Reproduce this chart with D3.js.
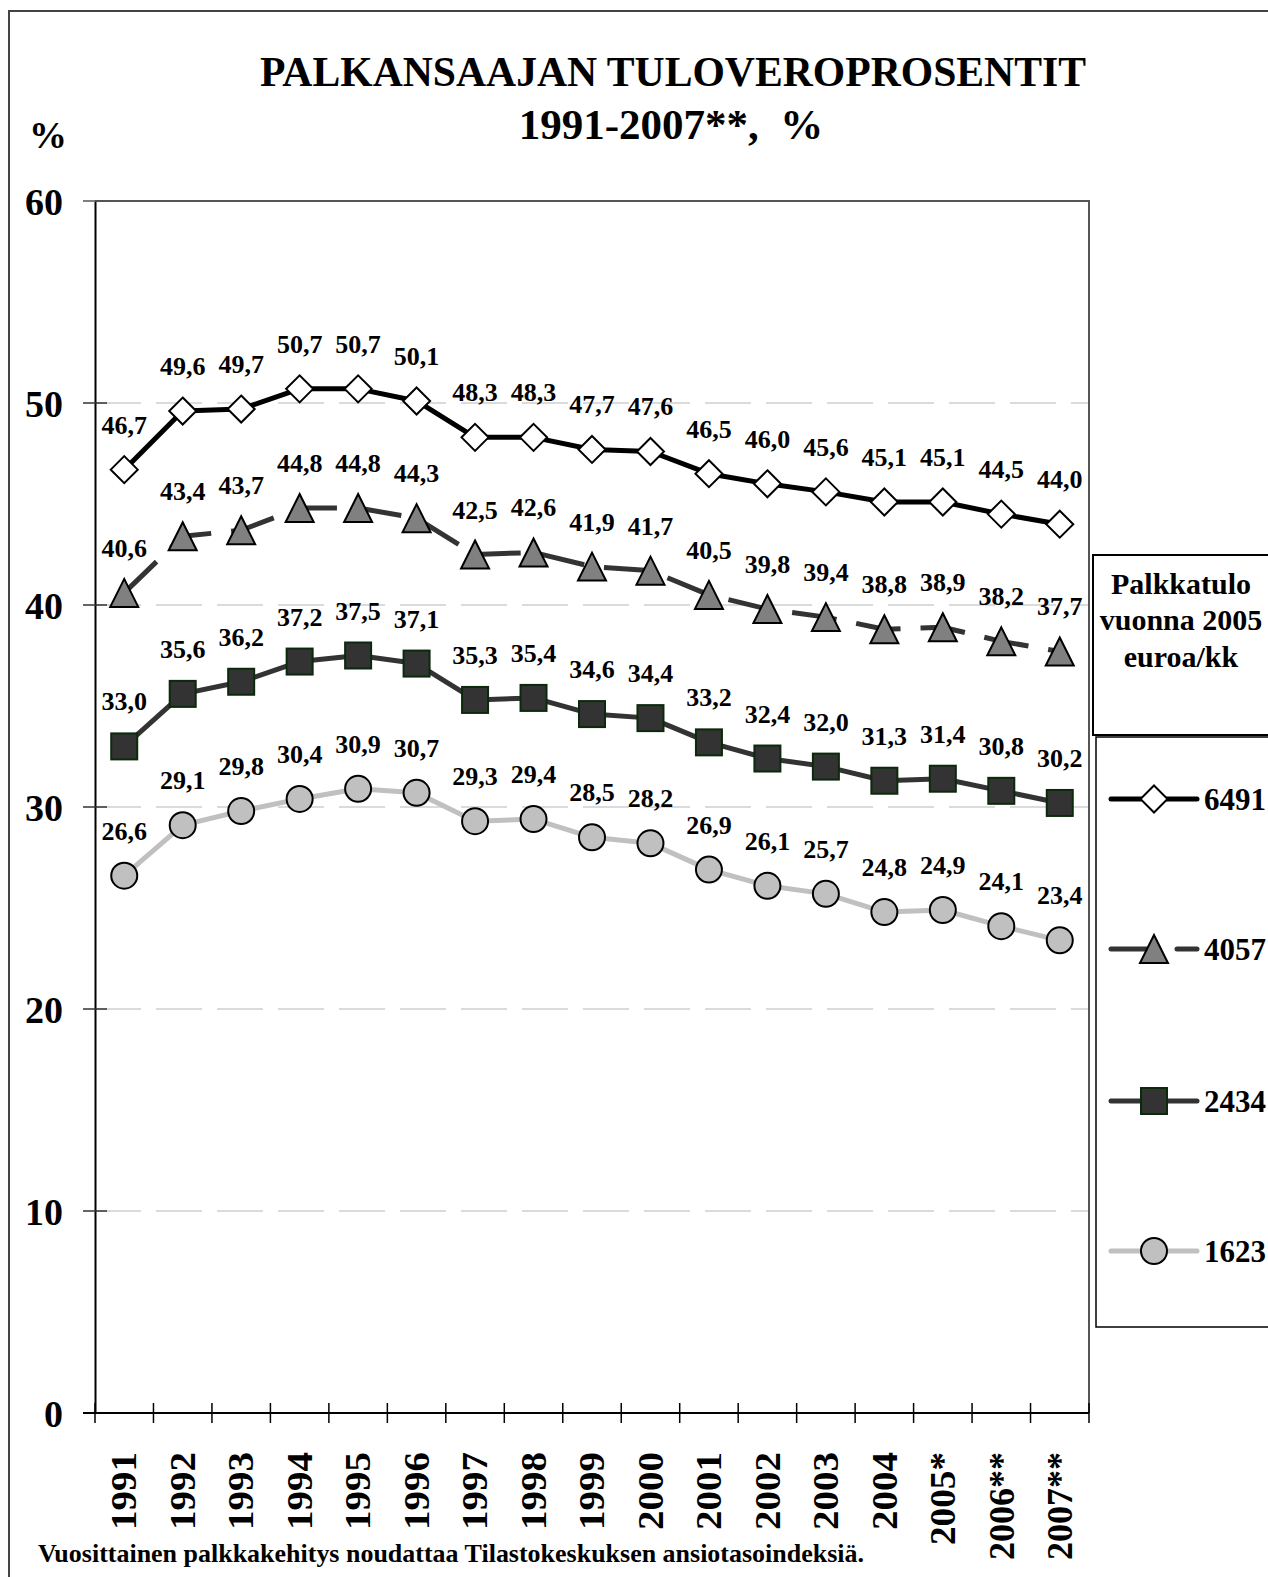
<!DOCTYPE html>
<html>
<head>
<meta charset="utf-8">
<script src="https://cdn.jsdelivr.net/npm/d3@7"></script>
<style>
  html, body { margin: 0; padding: 0; background: #fff; }
  svg { display: block; }
  text { font-family: "Liberation Serif", "Times New Roman", serif; font-weight: bold; fill: #000; }
</style>
</head>
<body>
<svg id="chart" width="1268" height="1577"></svg>
<script>
// Years on the x axis (band categories)
const years = ["1991","1992","1993","1994","1995","1996","1997","1998","1999","2000",
               "2001","2002","2003","2004","2005*","2006**","2007**"];

// Income tax rate (%) by monthly wage level, euros/month in 2005
const s6491 = [46.7,49.6,49.7,50.7,50.7,50.1,48.3,48.3,47.7,47.6,46.5,46.0,45.6,45.1,45.1,44.5,44.0];
const s4057 = [40.6,43.4,43.7,44.8,44.8,44.3,42.5,42.6,41.9,41.7,40.5,39.8,39.4,38.8,38.9,38.2,37.7];
const s2434 = [33.0,35.6,36.2,37.2,37.5,37.1,35.3,35.4,34.6,34.4,33.2,32.4,32.0,31.3,31.4,30.8,30.2];
const s1623 = [26.6,29.1,29.8,30.4,30.9,30.7,29.3,29.4,28.5,28.2,26.9,26.1,25.7,24.8,24.9,24.1,23.4];

const seriesNames = ["6491","4057","2434","1623"];
const yTicks = [0,10,20,30,40,50,60];

const title1 = "PALKANSAAJAN TULOVEROPROSENTIT";
const title2 = "1991-2007**,  %";
const legendTitle = ["Palkkatulo","vuonna 2005","euroa/kk"];
const footnote = "Vuosittainen palkkakehitys noudattaa Tilastokeskuksen ansiotasoindeksiä.";

const series = [
  { name: "6491", values: s6491, line: "#000000", dash: null,    marker: "diamond",  fill: "#ffffff", stroke: "#000000" },
  { name: "4057", values: s4057, line: "#333333", dash: "45,20", marker: "triangle", fill: "#808080", stroke: "#000000" },
  { name: "2434", values: s2434, line: "#333333", dash: null,    marker: "square",   fill: "#333333", stroke: "#0b2a0b" },
  { name: "1623", values: s1623, line: "#c0c0c0", dash: null,    marker: "circle",   fill: "#c0c0c0", stroke: "#000000" }
];

const svg = d3.select("#chart");
const plot = { left: 95, right: 1089, top: 201, bottom: 1413 };

const x = d3.scaleBand().domain(years).range([plot.left, plot.right]);
const y = d3.scaleLinear().domain([0, 60]).range([plot.bottom, plot.top]);
const cx = d => x(d) + x.bandwidth() / 2;
const fmt = v => d3.format(".1f")(v).replace(".", ",");

// Outer frame (top and left edges)
svg.append("path")
  .attr("d", "M9,1577 L9,11 L1268,11")
  .attr("fill", "none").attr("stroke", "#444").attr("stroke-width", 2);

// Title
svg.append("text").attr("x", 673).attr("y", 86).attr("text-anchor", "middle")
  .attr("font-size", 43).attr("textLength", 826).attr("lengthAdjust", "spacingAndGlyphs")
  .text(title1);
svg.append("text").attr("x", 671).attr("y", 139).attr("text-anchor", "middle")
  .attr("font-size", 43).style("white-space", "pre").attr("xml:space", "preserve")
  .text(title2);

// Unit label
svg.append("text").attr("x", 48).attr("y", 148).attr("text-anchor", "middle")
  .attr("font-size", 38).text("%");

// Horizontal gridlines
svg.append("g").selectAll("line")
  .data(yTicks.filter(t => t > 0 && t < 60))
  .join("line")
  .attr("x1", plot.left).attr("x2", plot.right)
  .attr("y1", d => y(d)).attr("y2", d => y(d))
  .attr("stroke", "#d0d0d0").attr("stroke-width", 1.5)
  .attr("stroke-dasharray", "46,15");

// Plot frame: top and right in grey
svg.append("path")
  .attr("d", `M${plot.left},${plot.top} L${plot.right},${plot.top} L${plot.right},${plot.bottom}`)
  .attr("fill", "none").attr("stroke", "#555").attr("stroke-width", 2);

// Y axis
const yAxis = d3.axisLeft(y).tickValues(yTicks).tickSize(0).tickFormat(d3.format("d"));
const gy = svg.append("g").attr("transform", `translate(${plot.left},0)`).call(yAxis);
gy.select(".domain").attr("stroke", "#000").attr("stroke-width", 2);
gy.selectAll(".tick line").remove();
gy.selectAll(".tick text")
  .attr("x", 63 - plot.left).attr("dy", "0.35em")
  .attr("font-size", 38).attr("fill", "#000");
gy.attr("font-family", null).attr("font-size", null);
// cross ticks on the y axis
svg.append("g").selectAll("line").data(yTicks).join("line")
  .attr("x1", plot.left - 12).attr("x2", plot.left + 12)
  .attr("y1", d => y(d)).attr("y2", d => y(d))
  .attr("stroke", d => d === 60 ? "#555" : "#333").attr("stroke-width", 1.5);

// X axis with ticks at band boundaries
const gx = svg.append("g").attr("transform", `translate(0,${plot.bottom})`);
gx.append("line").attr("x1", plot.left - 12).attr("x2", plot.right)
  .attr("stroke", "#000").attr("stroke-width", 2);
const boundaries = years.map(d => x(d)).concat([plot.right]);
gx.selectAll("line.tk").data(boundaries).join("line").attr("class", "tk")
  .attr("x1", d => d).attr("x2", d => d).attr("y1", -10).attr("y2", 10)
  .attr("stroke", "#000").attr("stroke-width", 1.5);
const starCount = d => (d.match(/\*/g) || []).length;
gx.selectAll("text").data(years).join("text")
  .attr("transform", d => `translate(${cx(d)},${1452 - plot.bottom}) rotate(-90)`)
  .attr("text-anchor", "end").attr("dy", "0.35em")
  .attr("font-size", 35)
  .attr("textLength", d => 4 * 19.5 + starCount(d) * 15).attr("lengthAdjust", "spacingAndGlyphs")
  .text(d => d);

// Marker shapes
function drawMarker(g, s, px, py) {
  if (s.marker === "diamond") {
    const r = 13.5;
    g.append("path").attr("d", `M${px},${py - r} L${px + r},${py} L${px},${py + r} L${px - r},${py} Z`)
      .attr("fill", s.fill).attr("stroke", s.stroke).attr("stroke-width", 2);
  } else if (s.marker === "triangle") {
    const w = 14, h = 28;
    g.append("path").attr("d", `M${px},${py - h / 2} L${px + w},${py + h / 2} L${px - w},${py + h / 2} Z`)
      .attr("fill", s.fill).attr("stroke", s.stroke).attr("stroke-width", 2);
  } else if (s.marker === "square") {
    g.append("rect").attr("x", px - 13).attr("y", py - 13).attr("width", 26).attr("height", 26)
      .attr("fill", s.fill).attr("stroke", s.stroke).attr("stroke-width", 2);
  } else {
    g.append("circle").attr("cx", px).attr("cy", py).attr("r", 13)
      .attr("fill", s.fill).attr("stroke", s.stroke).attr("stroke-width", 2);
  }
}

const line = d3.line().x((d, i) => cx(years[i])).y(d => y(d));

// Lines
series.slice().reverse().forEach(s => {
  svg.append("path").datum(s.values).attr("d", line)
    .attr("fill", "none").attr("stroke", s.line).attr("stroke-width", 5)
    .attr("stroke-linejoin", "round")
    .attr("stroke-dasharray", s.dash);
});

// Markers and value labels
series.forEach(s => {
  const g = svg.append("g");
  s.values.forEach((v, i) => drawMarker(g, s, cx(years[i]), y(v)));
  g.selectAll("text").data(s.values).join("text")
    .attr("x", (d, i) => cx(years[i])).attr("y", d => y(d) - 36)
    .attr("text-anchor", "middle").attr("font-size", 26)
    .text(d => fmt(d));
});

// Legend
const lg = svg.append("g");
lg.append("rect").attr("x", 1093).attr("y", 555).attr("width", 200).attr("height", 180)
  .attr("fill", "#fff").attr("stroke", "#000").attr("stroke-width", 2);
lg.append("rect").attr("x", 1096).attr("y", 737).attr("width", 200).attr("height", 590)
  .attr("fill", "#fff").attr("stroke", "#000").attr("stroke-width", 1.5);
const titleY = [594, 630, 667];
legendTitle.forEach((t, i) => {
  lg.append("text").attr("x", 1181).attr("y", titleY[i]).attr("text-anchor", "middle")
    .attr("font-size", 30).text(t);
});
const legendY = [799, 949, 1101, 1251];
series.forEach((s, i) => {
  const ly = legendY[i];
  lg.append("line").attr("x1", 1111).attr("x2", 1197).attr("y1", ly).attr("y2", ly)
    .attr("stroke", s.line).attr("stroke-width", 5).attr("stroke-linecap", "round")
    .attr("stroke-dasharray", s.dash ? "38,28" : null);
  drawMarker(lg, s, 1154, ly);
  lg.append("text").attr("x", 1204).attr("y", ly).attr("dy", "0.35em")
    .attr("font-size", 31).text(seriesNames[i]);
});

// Footnote
svg.append("text").attr("x", 38).attr("y", 1562).attr("font-size", 25)
  .attr("textLength", 826).attr("lengthAdjust", "spacingAndGlyphs")
  .text(footnote);
</script>
</body>
</html>
